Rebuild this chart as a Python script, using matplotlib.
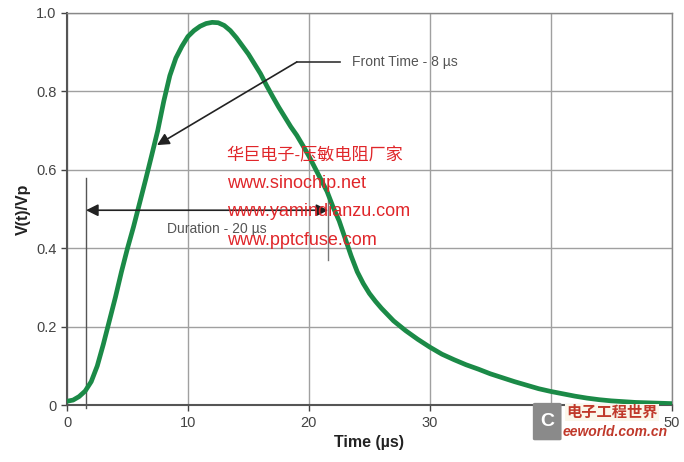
import matplotlib.pyplot as plt
from matplotlib.patches import FancyBboxPatch

# waveform V(t)/Vp
t = [0, 0.5, 1.0, 1.5, 2.0, 2.5, 3.0, 3.5, 4.0, 4.5, 5.0, 5.5, 6.0, 6.5, 7.0,
     7.5, 8.0, 8.5, 9.0, 9.5, 10.0, 10.5, 11.0, 11.5, 12.0, 12.5, 13.0, 13.5,
     14.0, 14.5, 15.0, 15.5, 16.0, 16.5, 17.0, 17.5, 18.0, 18.5, 19.0, 19.5,
     20.0, 20.5, 21.0, 21.5, 22.0, 22.5, 23.0, 23.5, 24.0, 24.5, 25.0, 25.5,
     26.0, 27.0, 28.0, 29.0, 30.0, 31.0, 32.0, 33.0, 34.0, 35.0, 36.0, 37.0,
     38.0, 39.0, 40.0, 41.0, 42.0, 43.0, 44.0, 45.0, 46.0, 47.0, 48.0, 49.0,
     50.0]
v = [0.01, 0.013, 0.022, 0.036, 0.06, 0.1, 0.155, 0.215, 0.275, 0.34, 0.4,
     0.455, 0.515, 0.575, 0.637, 0.70, 0.775, 0.84, 0.885, 0.915, 0.94, 0.955,
     0.966, 0.973, 0.976, 0.975, 0.968, 0.955, 0.937, 0.916, 0.895, 0.87,
     0.845, 0.815, 0.787, 0.76, 0.735, 0.71, 0.688, 0.662, 0.635, 0.605,
     0.575, 0.545, 0.505, 0.47, 0.425, 0.38, 0.34, 0.31, 0.285, 0.265, 0.247,
     0.215, 0.19, 0.168, 0.148, 0.13, 0.116, 0.103, 0.092, 0.08, 0.07, 0.06,
     0.051, 0.042, 0.035, 0.029, 0.023, 0.018, 0.014, 0.011, 0.009, 0.007,
     0.006, 0.005, 0.004]

x_ticks = [0, 10, 20, 30, 40, 50]
y_ticks = [0, 0.2, 0.4, 0.6, 0.8, 1.0]
y_labels = ["0", "0.2", "0.4", "0.6", "0.8", "1.0"]

watermark = ["华巨电子-压敏电阻厂家", "www.sinochip.net",
             "www.yamindianzu.com", "www.pptcfuse.com"]

plt.rcParams["font.family"] = ["Liberation Sans", "Noto Sans CJK SC", "DejaVu Sans"]

fig = plt.figure(figsize=(6.84, 4.62), dpi=100)
ax = fig.add_axes([0.098, 0.123, 0.884, 0.849])

ax.plot(t, v, color="#1b8a47", linewidth=3.4, solid_capstyle="round",
        solid_joinstyle="round", zorder=3)

ax.set_xlim(0, 50)
ax.set_ylim(0, 1.0)
ax.set_xticks(x_ticks)
ax.set_yticks(y_ticks)
ax.set_yticklabels(y_labels)
ax.grid(True, color="#a0a0a0", linewidth=1.0)
ax.set_axisbelow(True)
ax.tick_params(colors="#444444", labelsize=10.5, length=4, width=1)
for side in ["left", "bottom"]:
    ax.spines[side].set_color("#555555")
    ax.spines[side].set_linewidth(1.5)
for side in ["top", "right"]:
    ax.spines[side].set_color("#888888")
    ax.spines[side].set_linewidth(1.0)

ax.set_xlabel("Time (µs)", fontsize=11.5, fontweight="bold", color="#222222")
ax.set_ylabel("V(t)/Vp", fontsize=11.5, fontweight="bold", color="#222222")

# Front time annotation
ax.plot([22.6, 19.0], [0.875, 0.875], color="#333333", linewidth=1.2)
ax.annotate("", xy=(7.44, 0.663), xytext=(19.0, 0.875),
            arrowprops=dict(arrowstyle="-|>", color="#222222", lw=1.2,
                            mutation_scale=18, shrinkA=0, shrinkB=0))
ax.text(23.6, 0.875, "Front Time - 8 µs", fontsize=10, color="#555555",
        va="center", ha="left")

# Duration annotation
ax.plot([1.57, 1.57], [-0.008, 0.58], color="#555555", linewidth=1.0,
        clip_on=False)
ax.plot([21.6, 21.6], [0.37, 0.556], color="#777777", linewidth=1.0)
ax.annotate("", xy=(1.57, 0.497), xytext=(21.6, 0.497),
            arrowprops=dict(arrowstyle="<|-|>", color="#222222", lw=1.2,
                            mutation_scale=18, shrinkA=0, shrinkB=0))
ax.text(12.4, 0.45, "Duration - 20 µs", fontsize=10, color="#555555",
        va="center", ha="center")

# red watermark text
for i, s in enumerate(watermark):
    size = 12.3 if i == 0 else 13
    ax.text(13.2, 0.637 - i * 0.072, s, fontsize=size, color="#e0262a",
            va="center", ha="left", zorder=5)

# eeworld logo watermark
fig.patches.append(FancyBboxPatch((0.782, 0.05), 0.036, 0.075,
                                  boxstyle="round,pad=0.003", transform=fig.transFigure,
                                  facecolor="#8a8a8a", edgecolor="none"))
fig.text(0.8, 0.088, "C", fontsize=14, color="white", fontweight="bold",
         ha="center", va="center")
fig.text(0.828, 0.107, "电子工程世界", fontsize=11, color="#c0392b",
         fontweight="bold", va="center", ha="left",
         bbox=dict(facecolor="#fbf6ea", edgecolor="none", pad=1.0))
fig.text(0.822, 0.064, "eeworld.com.cn", fontsize=10, color="#c0392b",
         style="italic", fontweight="bold", va="center", ha="left")

fig.savefig("out.png", dpi=100)
